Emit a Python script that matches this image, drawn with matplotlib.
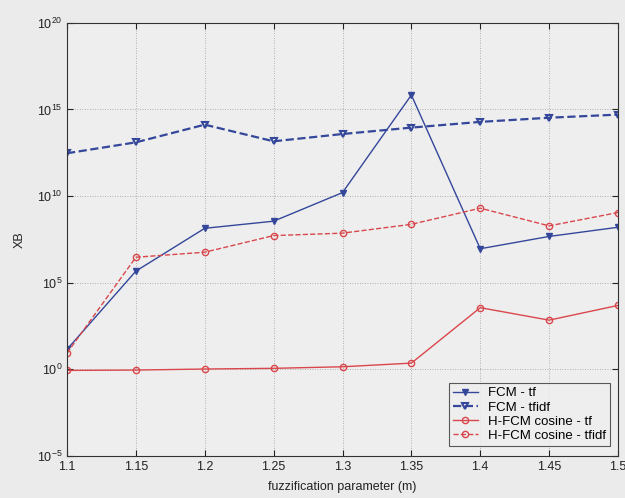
import numpy as np
import matplotlib
matplotlib.use("Agg")
import matplotlib.pyplot as plt
from matplotlib.ticker import FixedLocator, NullLocator

plt.rcParams['font.family'] = ['Liberation Sans', 'DejaVu Sans']
plt.rcParams['mathtext.fontset'] = 'custom'
plt.rcParams['mathtext.rm'] = 'Liberation Sans'
plt.rcParams['mathtext.it'] = 'Liberation Sans'
plt.rcParams['mathtext.default'] = 'regular'

m_values = [1.1, 1.15, 1.2, 1.25, 1.3, 1.35, 1.4, 1.45, 1.5]

# log10 of the XB index for each run
fcm_tf_log = [1.15, 5.67, 8.14, 8.55, 10.2, 15.83, 6.96, 7.67, 8.2]
fcm_tfidf_log = [12.47, 13.1, 14.12, 13.16, 13.58, 13.95, 14.28, 14.52, 14.7]
hfcm_tf_log = [-0.06, -0.04, 0.02, 0.06, 0.15, 0.36, 3.56, 2.84, 3.69]
hfcm_tfidf_log = [0.94, 6.47, 6.76, 7.72, 7.86, 8.37, 9.3, 8.28, 9.05]

series_names = ["FCM - tf", "FCM - tfidf", "H-FCM cosine - tf", "H-FCM cosine - tfidf"]
x_ticks = [1.1, 1.15, 1.2, 1.25, 1.3, 1.35, 1.4, 1.45, 1.5]
y_exps = [-5, 0, 5, 10, 15, 20]

blue = "#34479a"
red = "#d9474c"
bg = "#ebebeb"

fig = plt.figure(figsize=(6.25, 4.98), dpi=100, facecolor=bg)
ax = fig.add_axes([0.1072, 0.0843, 0.8816, 0.870], facecolor="#eeeeee")

ax.plot(m_values, 10.0 ** np.array(fcm_tf_log), color=blue, linestyle="-", lw=1.0,
        marker="v", ms=4.5, mfc=blue, mec=blue, label=series_names[0])
ax.plot(m_values, 10.0 ** np.array(fcm_tfidf_log), color=blue, linestyle="--", lw=1.6,
        marker="v", ms=4.5, mfc="none", mec=blue, mew=1.5, label=series_names[1])
ax.plot(m_values, 10.0 ** np.array(hfcm_tf_log), color=red, linestyle="-", lw=1.0,
        marker="o", ms=4.5, mfc="none", mec=red, label=series_names[2])
ax.plot(m_values, 10.0 ** np.array(hfcm_tfidf_log), color=red, linestyle="--", lw=1.0,
        marker="o", ms=4.5, mfc="none", mec=red, label=series_names[3])

ax.set_yscale("log")
ax.set_xlim(1.1, 1.5)
ax.set_ylim(1e-5, 1e20)
ax.set_xticks(x_ticks)
ax.set_xticklabels([f"{t:g}" for t in x_ticks])
ax.yaxis.set_major_locator(FixedLocator([10.0 ** e for e in y_exps]))
ax.yaxis.set_minor_locator(NullLocator())
ax.set_yticklabels([f"$10^{{{e}}}$" for e in y_exps])

ax.grid(True, which="major", linestyle=(0, (1, 2)), color="#9a9a9a", lw=0.6)
ax.tick_params(direction="in", top=True, right=True, labelsize=9, colors="#222222", length=4)
for s in ax.spines.values():
    s.set_color("#333333")
    s.set_linewidth(0.8)

ax.set_xlabel("fuzzification parameter (m)", fontsize=9, color="#222222", labelpad=6)
ax.set_ylabel("XB", fontsize=9, color="#222222", labelpad=8)

leg = ax.legend(loc="lower right", fontsize=9.5, frameon=True, fancybox=False,
                handlelength=1.9, borderpad=0.3, labelspacing=0.15,
                bbox_to_anchor=(0.998, 0.008))
leg.get_frame().set_edgecolor("#333333")
leg.get_frame().set_facecolor("#eeeeee")
leg.get_frame().set_linewidth(0.8)

fig.savefig("out.png", dpi=100, facecolor=bg)
